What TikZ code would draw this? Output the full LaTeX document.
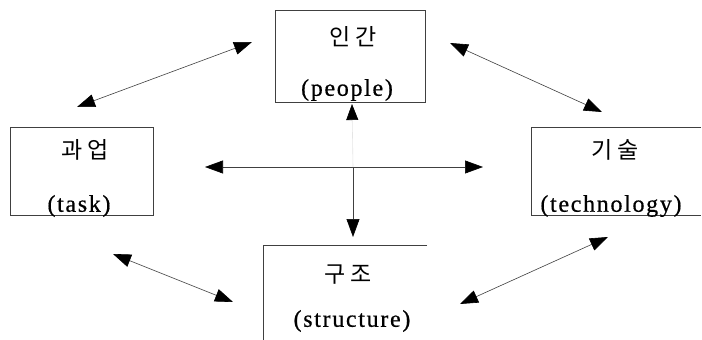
\documentclass[tikz,border=0pt]{standalone}
\usepackage{fontspec}
\setmainfont{Liberation Serif}
\newfontfamily\krfont[LetterSpace=22]{Noto Sans CJK KR}
\newfontfamily\latfont[LetterSpace=7,FakeBold=0.6]{Liberation Serif}
\usetikzlibrary{arrows.meta}
\tikzset{
  boxline/.style={draw=black!75, line width=0.8pt},
  frame/.style={minimum width=#1, inner sep=0, outer sep=0},
  kor/.style={font=\krfont\fontsize{23}{25}\selectfont, inner sep=0, text=black},
  eng/.style={font=\latfont\fontsize{24}{26}\selectfont, inner sep=0, text=black},
  link/.style={draw=black!75, line width=0.6pt, {Triangle[length=18pt,width=13pt,color=black]}-{Triangle[length=18pt,width=13pt,color=black]}},
  oneway/.style={draw=black!75, line width=0.6pt, -{Triangle[length=18pt,width=13pt,color=black]}},
}
\begin{document}
\begin{tikzpicture}[x=1pt,y=-1pt]
\useasboundingbox[fill=white] (0,0) rectangle (702,340);

% boxes
\node[boxline, frame=150pt, minimum height=92pt] (people) at (350,56) {};
\node[boxline, frame=143pt, minimum height=88pt] (task) at (81.5,171) {};
\node[frame=170pt, minimum height=88pt] (tech) at (616,171) {};
\draw[boxline] (tech.north east) -- (tech.north west) -- (tech.south west) -- (tech.south east);
\node[frame=164pt, minimum height=95pt] (struct) at (345,292.5) {};
\draw[boxline] (struct.north east) -- (struct.north west) -- (struct.south west);

% texts
\node[kor] (tp1) at (353,37) {인간};
\node[eng] (tp2) at (347,90) {(people)};
\node[kor] (tt1) at (85,150) {과업};
\node[eng] (tt2) at (79,206) {(task)};
\node[kor] (th1) at (615,150) {기술};
\node[eng] (th2) at (611,206) {(technology)};
\node[kor] (ts1) at (348,275) {구조};
\node[eng] (ts2) at (352,321) {(structure)};

% connector ends
\coordinate (tpA) at (77,107);   \coordinate (tpB) at (252,42);
\coordinate (phA) at (450,43);   \coordinate (phB) at (602,112);
\coordinate (tsA) at (113,254);  \coordinate (tsB) at (233,302);
\coordinate (shA) at (460,304);  \coordinate (shB) at (608,237);
\coordinate (hL) at (205,167);   \coordinate (hR) at (483,167);
\coordinate (jn) at (353,167);
\coordinate (dn) at (353,237);
\coordinate (up) at (352,104);

% connectors
\draw[link] (tpA) -- (tpB);
\draw[link] (phA) -- (phB);
\draw[link] (tsA) -- (tsB);
\draw[link] (shA) -- (shB);
\draw[link] (hL) -- (hR);
\draw[oneway] (jn) -- (dn);
\draw[draw=black!10, line width=0.6pt, -{Triangle[length=16pt,width=12pt,color=black]}] (jn) -- (up);
\end{tikzpicture}
\end{document}
